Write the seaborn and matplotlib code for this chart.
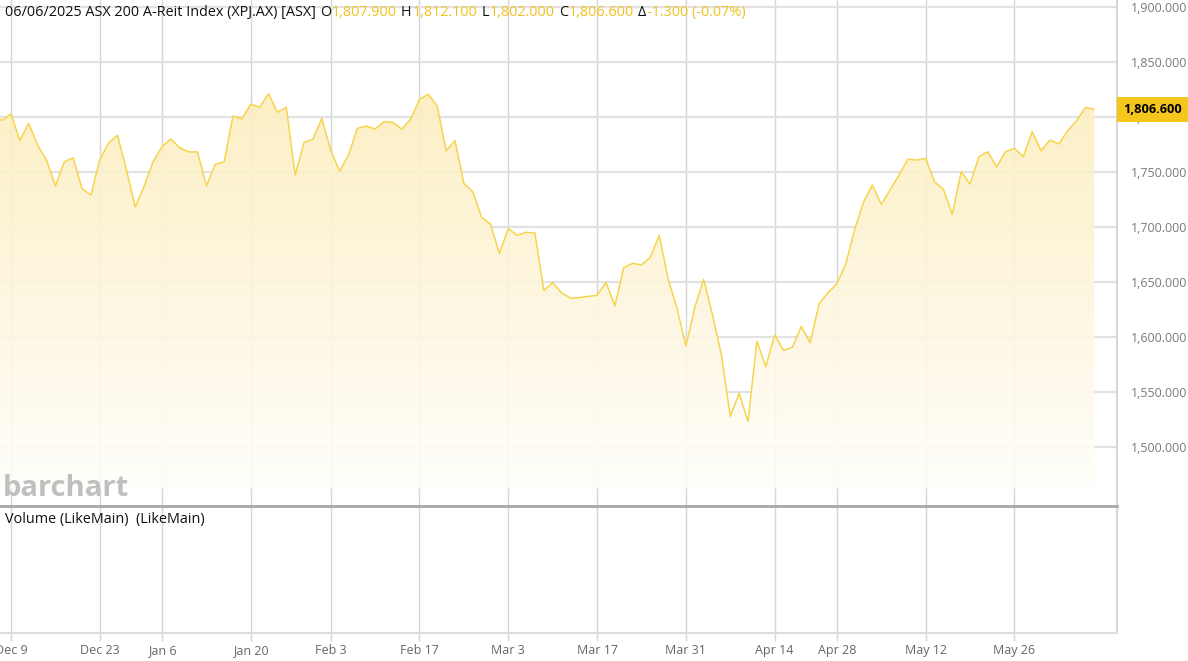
import numpy as np
import pandas as pd
import matplotlib
matplotlib.use('Agg')
import matplotlib.pyplot as plt
import seaborn as sns

# ---- data ----
holidays = ['2024-12-25', '2024-12-26', '2025-01-01', '2025-01-27',
            '2025-04-18', '2025-04-21', '2025-04-25']

close_dec = [1800.5, 1796.7, 1802.5, 1778.5, 1794.0, 1774.0, 1760.6, 1737.0, 1759.0,
             1762.7, 1734.5, 1728.8, 1761.0, 1776.4, 1783.0, 1751.5, 1718.0]
close_jan = [1737.0, 1759.0, 1772.7, 1779.7, 1771.8, 1768.0, 1768.0, 1737.0, 1756.7,
             1759.0, 1800.6, 1798.0, 1811.5, 1808.5, 1821.0, 1804.0, 1808.5, 1747.0,
             1776.7, 1779.4, 1798.5]
close_feb = [1769.7, 1750.6, 1765.0, 1789.4, 1791.5, 1788.8, 1795.5, 1794.9, 1788.8,
             1797.6, 1815.8, 1820.4, 1809.7, 1769.0, 1778.2, 1739.4, 1731.8, 1708.5,
             1702.2, 1675.8]
close_mar = [1698.2, 1692.2, 1694.9, 1694.3, 1642.0, 1649.0, 1640.0, 1635.0, 1635.5,
             1636.7, 1637.6, 1649.4, 1628.0, 1662.7, 1666.7, 1665.2, 1672.2, 1692.2,
             1652.5, 1625.8, 1591.5]
close_apr = [1626.5, 1652.2, 1619.7, 1583.4, 1527.6, 1548.5, 1523.0, 1596.0, 1572.7,
             1601.4, 1587.6, 1590.4, 1609.3, 1594.5, 1630.0, 1640.0, 1648.0, 1666.0,
             1697.0]
close_may = [1722.2, 1737.9, 1720.3, 1733.4, 1747.0, 1761.3, 1760.6, 1762.2, 1740.9,
             1734.0, 1711.3, 1750.0, 1738.8, 1763.6, 1768.2, 1754.5, 1768.2, 1771.2,
             1763.6, 1786.4, 1769.1, 1778.8]
close_jun = [1775.2, 1787.3, 1796.4, 1808.5, 1806.6]

tick_dates = ['2024-12-09', '2024-12-23', '2025-01-06', '2025-01-20', '2025-02-03',
              '2025-02-17', '2025-03-03', '2025-03-17', '2025-03-31', '2025-04-14',
              '2025-04-28', '2025-05-12', '2025-05-26']
tick_labels = ['Dec 9', 'Dec 23', 'Jan 6', 'Jan 20', 'Feb 3', 'Feb 17', 'Mar 3',
               'Mar 17', 'Mar 31', 'Apr 14', 'Apr 28', 'May 12', 'May 26']
price_ticks = [1500, 1550, 1600, 1650, 1700, 1750, 1800, 1850, 1900]

header_title = '06/06/2025 ASX 200 A-Reit Index (XPJ.AX) [ASX]'
ohlc_keys = ['O', 'H', 'L', 'C', '\u0394']
ohlc_vals = ['1,807.900', '1,812.100', '1,802.000', '1,806.600', '-1.300 (-0.07%)']
last_price = 1806.6

# ---- build frame ----
days = pd.bdate_range('2024-12-05', '2025-06-06')
days = days[~days.isin(pd.to_datetime(holidays))]
close = close_dec + close_jan + close_feb + close_mar + close_apr + close_may + close_jun
df = pd.DataFrame({'date': days, 'close': close})
df['idx'] = np.arange(len(df))
tick_pos = [int(df.index[df['date'] == pd.Timestamp(d)][0]) for d in tick_dates]

# ---- style ----
sns.set_theme(style='white')
plt.rcParams['font.family'] = ['Open Sans', 'DejaVu Sans']

W, H = 1188, 661
fig = plt.figure(figsize=(W / 100, H / 100), dpi=100)
fig.patch.set_facecolor('white')

def px_axes(left, top, right, bottom):
    return fig.add_axes([left / W, 1 - bottom / H, (right - left) / W, (bottom - top) / H])

axv = px_axes(0, 506, 1117, 633)
ax = px_axes(0, 0, 1117, 506)

xlim = (0.76, 126.55)
ylim = (1446.1, 1906.1)
line_col = '#f7d44c'
grid_h = '#e2e2e2'
grid_v = '#d6d6d6'

# main panel
for t in tick_pos:
    ax.axvline(t, color=grid_v, lw=1.0, zorder=0)
for p in price_ticks:
    ax.axhline(p, color=grid_h, lw=1.6, zorder=0)

base = 1462
poly = ax.fill_between(df['idx'], df['close'], base, color='none', lw=0)
grad = np.linspace(0, 1, 256).reshape(-1, 1)
top_c = np.array([252, 238, 190]) / 255
bot_c = np.array([255, 254, 250]) / 255
img = np.zeros((256, 1, 4))
img[:, 0, :3] = bot_c + (top_c - bot_c) * grad
img[:, 0, 3] = 0.9
im = ax.imshow(img, extent=[df['idx'].min(), df['idx'].max(), base, 1825],
               origin='lower', aspect='auto', zorder=1)
im.set_clip_path(poly.get_paths()[0], transform=ax.transData)

sns.lineplot(data=df, x='idx', y='close', ax=ax, color=line_col, lw=1.1, zorder=3)
ax.set_xlim(*xlim)
ax.set_ylim(*ylim)

ax.yaxis.tick_right()
ax.set_yticks(price_ticks)
ax.set_yticklabels([f'{p:,.3f}' for p in price_ticks])
ax.tick_params(axis='y', length=0, pad=10, labelsize=8.9, labelcolor='#7a7a7a')
ax.set_xticks([])
ax.set_xlabel('')
ax.set_ylabel('')
ax.patch.set_alpha(0)
for s in ['top', 'left']:
    ax.spines[s].set_visible(False)
ax.spines['right'].set_color('#d0d0d0')
ax.spines['bottom'].set_color('#a8a8a8')
ax.spines['bottom'].set_linewidth(2)

# price tag
ax.annotate(f'{last_price:,.3f}', xy=(1.0, last_price), xycoords=ax.get_yaxis_transform(),
            xytext=(4.5, 0), textcoords='offset points', ha='left', va='center',
            fontsize=9.2, fontweight='bold', color='black',
            bbox=dict(boxstyle='square,pad=0.5', fc='#f5c71d', ec='none'),
            annotation_clip=False, zorder=10)

# watermark
ax.text(3 / 1117, 1 - 489 / 506, 'barchart', transform=ax.transAxes, ha='left',
        va='center', fontsize=21, fontweight='bold', color='#bfbfbf', zorder=4)

# volume panel
axv.set_xlim(*xlim)
axv.set_ylim(0, 1)
for t in tick_pos:
    axv.axvline(t, color=grid_v, lw=1.0, zorder=0)
axv.set_xticks(tick_pos)
axv.set_xticklabels(tick_labels)
axv.tick_params(axis='x', length=6, width=1, color='#d6d6d6', pad=2,
                labelsize=9, labelcolor='#666666', bottom=True)
axv.set_yticks([])
for s in ['top', 'left']:
    axv.spines[s].set_visible(False)
axv.spines['right'].set_color('#d0d0d0')
axv.spines['bottom'].set_color('#dcdcdc')
axv.spines['bottom'].set_linewidth(1.5)
axv.text(5 / 1117, 1 - 13 / 127, 'Volume (LikeMain)  (LikeMain)', transform=axv.transAxes,
         ha='left', va='center', fontsize=10.4, color='#111111')

# header with coloured values
fig.canvas.draw()
renderer = fig.canvas.get_renderer()
hy = 1 - 16 / H
hs = 10.4
t = fig.text(5 / W, hy, header_title, ha='left', va='baseline', fontsize=hs, color='#111111')
x_end = t.get_window_extent(renderer).x1
for k, v in zip(ohlc_keys, ohlc_vals):
    tk = fig.text((x_end + 4) / W, hy, k, ha='left', va='baseline', fontsize=hs, color='#111111')
    x_end = tk.get_window_extent(renderer).x1
    tv = fig.text((x_end + 1) / W, hy, v, ha='left', va='baseline', fontsize=hs, color='#f2c21a')
    x_end = tv.get_window_extent(renderer).x1

fig.savefig('out.png', dpi=100)
